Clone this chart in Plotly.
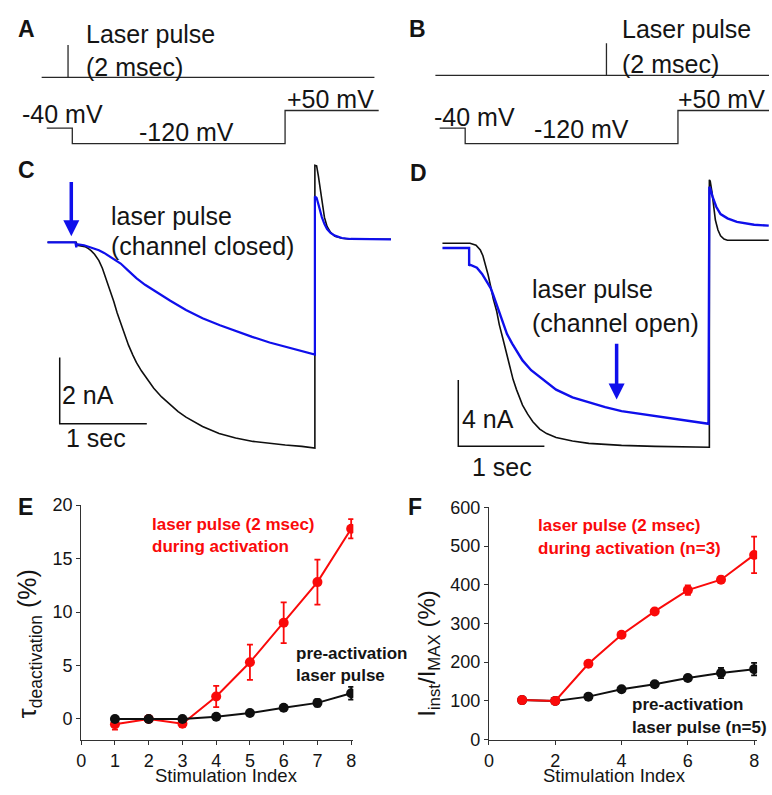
import plotly.graph_objects as go

# picture size (figure fills the page exactly)
W, H = 772, 795
OFF = 0
FW, FH = W - 2 * OFF, H - 2 * OFF
FONT = "Liberation Sans, Arial, sans-serif"
RED = "rgb(250,10,10)"
BLUE = "rgb(15,15,235)"
BLK = "rgb(15,15,15)"

# ---------------- data ----------------
# A/B: voltage protocol (time in s, voltage in mV)
prot_t = [-0.3, 0.0, 0.0, 2.5, 2.5, 3.6]
prot_v = [-40, -40, -120, -120, 50, 50]
# laser pulse trace (time in s, relative level)
laser_a_t = [-0.36, -0.05, -0.05, -0.05, 3.55]
laser_b_t = [-0.35, 1.66, 1.66, 1.66, 3.6]
laser_level = [0, 0, 1, 0, 0]

# C: current traces (time in s, current in nA)
c_t_black = [-0.33, 0.0, 0.01, 0.06, 0.1, 0.14, 0.17, 0.21, 0.26, 0.3, 0.34, 0.38, 0.43, 0.47, 0.51,
             0.55, 0.6, 0.65, 0.69, 0.75, 0.8, 0.89, 0.98, 1.08, 1.17, 1.26, 1.45, 1.64, 1.83, 2.03,
             2.22, 2.4, 2.59, 2.74, 2.74, 2.76, 2.78, 2.8, 2.82, 2.85, 2.88, 2.92, 2.97, 3.05, 3.15, 3.65]
c_i_black = [0, 0, -0.09, -0.1, -0.13, -0.19, -0.25, -0.36, -0.55, -0.78, -1.07, -1.4, -1.78, -2.13, -2.45,
             -2.76, -3.1, -3.4, -3.62, -3.88, -4.08, -4.4, -4.66, -4.9, -5.1, -5.27, -5.55, -5.76, -5.9, -6.0,
             -6.06, -6.11, -6.15, -6.2, 2.32, 2.3, 2.0, 1.6, 1.2, 0.75, 0.48, 0.3, 0.18, 0.12, 0.09, 0.09]
c_t_blue = [-0.33, -0.01, 0.0, 0.01, 0.09, 0.2, 0.26, 0.32, 0.4, 0.51, 0.6, 0.69, 0.79, 0.89, 1.08, 1.26,
            1.45, 1.65, 1.83, 2.02, 2.22, 2.48, 2.74, 2.74, 2.76, 2.78, 2.8, 2.82, 2.85, 2.88, 2.92, 2.97,
            3.05, 3.15, 3.65]
c_i_blue = [0, 0, -0.15, -0.06, -0.09, -0.18, -0.24, -0.32, -0.45, -0.64, -0.86, -1.08, -1.28, -1.45,
            -1.76, -2.04, -2.29, -2.5, -2.68, -2.85, -3.02, -3.2, -3.38, 1.38, 1.34, 1.15, 0.95, 0.76,
            0.55, 0.4, 0.28, 0.2, 0.13, 0.1, 0.09]

# D: current traces (time in s, current in nA)
d_t_black = [-0.31, 0.01, 0.08, 0.13, 0.16, 0.19, 0.22, 0.25, 0.28, 0.32, 0.35, 0.39, 0.43, 0.47, 0.51,
             0.55, 0.59, 0.62, 0.68, 0.74, 0.82, 0.9, 1.01, 1.2, 1.39, 1.77, 2.16, 2.5, 2.79, 2.79, 2.8,
             2.82, 2.84, 2.86, 2.89, 2.92, 2.96, 3.0, 3.48]
d_i_black = [0, 0, -0.12, -0.41, -0.75, -1.25, -1.9, -2.6, -3.35, -4.1, -4.9, -5.71, -6.6, -7.47, -8.2,
             -8.82, -9.35, -9.75, -10.3, -10.76, -11.2, -11.47, -11.71, -11.92, -12.06, -12.18, -12.24,
             -12.27, -12.29, 3.82, 3.75, 3.1, 2.2, 1.4, 0.8, 0.45, 0.25, 0.18, 0.18]
d_t_blue = [-0.31, 0.0, 0.0, 0.01, 0.09, 0.15, 0.21, 0.25, 0.28, 0.32, 0.36, 0.4, 0.44, 0.5, 0.55, 0.62,
            0.72, 0.82, 0.92, 1.01, 1.2, 1.39, 1.58, 1.77, 2.16, 2.54, 2.78, 2.79, 2.8, 2.83, 2.87, 2.92,
            3.0, 3.11, 3.31, 3.48]
d_i_blue = [-0.29, -0.29, -1.35, -1.29, -1.47, -1.85, -2.35, -2.7, -3.12, -3.7, -4.29, -4.9, -5.47,
            -6.05, -6.47, -7.06, -7.65, -8.06, -8.47, -8.82, -9.29, -9.59, -9.88, -10.12, -10.41, -10.71,
            -10.88, 3.41, 3.3, 2.76, 2.2, 1.76, 1.5, 1.29, 1.12, 1.06]

# arrows marking the laser pulse: (time, tail current, tip current)
arrow_c = (-0.057, 1.82, 0.18)
arrow_d = (1.713, -6.06, -9.41)

# E: tau deactivation (%)
stim_idx = [1, 2, 3, 4, 5, 6, 7, 8]
e_red = [-0.5, 0.0, -0.45, 2.1, 5.3, 9.0, 12.8, 17.8]
e_red_err = [0.5, 0.1, 0.3, 1.0, 1.65, 1.9, 2.1, 0.9]
e_black = [0.0, 0.0, 0.0, 0.2, 0.55, 1.05, 1.5, 2.4]
e_black_err = [0.2, 0.1, 0.1, 0.2, 0.2, 0.2, 0.35, 0.6]
e_xticks = [0, 1, 2, 3, 4, 5, 6, 7, 8]
e_yticks = [0, 5, 10, 15, 20]

# F: I_inst / I_MAX (%)
f_red = [102, 100, 196, 271, 331, 386, 413, 477]
f_red_err = [4, 3, 5, 6, 6, 12, 8, 47]
f_black = [102, 100, 111, 130, 143, 159, 172, 182]
f_black_err = [3, 3, 5, 5, 5, 8, 13, 16]
f_xticks = [0, 2, 4, 6, 8]
f_yticks = [0, 100, 200, 300, 400, 500, 600]


# ---------------- helpers (picture pixels -> figure fractions) ----------------
def cx(p):
    return min(max(p, OFF), OFF + FW)


def cy(p):
    return min(max(p, OFF), OFF + FH)


def xaxis_px(p0, p1, origin, s):
    a, b = cx(p0), cx(p1)
    return dict(domain=[(a - OFF) / FW, (b - OFF) / FW], range=[(a - origin) / s, (b - origin) / s])


def yaxis_px(p0, p1, origin, s):
    a, b = cy(p0), cy(p1)
    return dict(domain=[1 - (b - OFF) / FH, 1 - (a - OFF) / FH], range=[(origin - b) / s, (origin - a) / s])


def hidden(box, **kw):
    d = dict(visible=False, showgrid=False, zeroline=False, fixedrange=True)
    d.update(box)
    d.update(kw)
    return d


fig = go.Figure()
line_gray = dict(color="rgb(40,40,40)", width=1.3)

# A
fig.add_trace(go.Scatter(x=laser_a_t, y=laser_level, mode="lines", line=line_gray, xaxis="x", yaxis="y2"))
fig.add_trace(go.Scatter(x=prot_t, y=prot_v, mode="lines", line=line_gray, xaxis="x", yaxis="y"))
# B
fig.add_trace(go.Scatter(x=laser_b_t, y=laser_level, mode="lines", line=line_gray, xaxis="x2", yaxis="y4"))
fig.add_trace(go.Scatter(x=prot_t, y=prot_v, mode="lines", line=line_gray, xaxis="x2", yaxis="y3"))
# C
fig.add_trace(go.Scatter(x=c_t_black, y=c_i_black, mode="lines", line=dict(color=BLK, width=1.6), xaxis="x3", yaxis="y5"))
fig.add_trace(go.Scatter(x=c_t_blue, y=c_i_blue, mode="lines", line=dict(color=BLUE, width=2.2), xaxis="x3", yaxis="y5"))
sc_t0, sc_i0 = -0.19, -5.47
fig.add_trace(go.Scatter(x=[sc_t0, sc_t0, sc_t0 + 1], y=[sc_i0 + 2, sc_i0, sc_i0], mode="lines",
                         line=dict(color=BLK, width=1.5), xaxis="x3", yaxis="y5"))
# D
fig.add_trace(go.Scatter(x=d_t_black, y=d_i_black, mode="lines", line=dict(color=BLK, width=1.6), xaxis="x4", yaxis="y6"))
fig.add_trace(go.Scatter(x=d_t_blue, y=d_i_blue, mode="lines", line=dict(color=BLUE, width=2.4), xaxis="x4", yaxis="y6"))
sd_t0, sd_i0 = -0.126, -12.24
fig.add_trace(go.Scatter(x=[sd_t0, sd_t0, sd_t0 + 1], y=[sd_i0 + 4, sd_i0, sd_i0], mode="lines",
                         line=dict(color=BLK, width=1.5), xaxis="x4", yaxis="y6"))


def add_arrow(arr, xa, ya, shaft_frac):
    t, tail, tip = arr
    base = tip + (tail - tip) * shaft_frac
    fig.add_trace(go.Scatter(x=[t, t], y=[tail, base], mode="lines", line=dict(color=BLUE, width=3.5),
                             xaxis=xa, yaxis=ya))
    fig.add_trace(go.Scatter(x=[t], y=[tip], mode="markers", xaxis=xa, yaxis=ya,
                             marker=dict(symbol="arrow-down", size=16, color=BLUE, line=dict(width=0))))


add_arrow(arrow_c, "x3", "y5", 0.25)
add_arrow(arrow_d, "x4", "y6", 0.25)

# E (black on top)
fig.add_trace(go.Scatter(x=stim_idx, y=e_red, mode="lines+markers", xaxis="x5", yaxis="y7",
                         line=dict(color=RED, width=2), marker=dict(color=RED, size=10),
                         error_y=dict(type="data", array=e_red_err, color=RED, thickness=1.8, width=3)))
fig.add_trace(go.Scatter(x=stim_idx, y=e_black, mode="lines+markers", xaxis="x5", yaxis="y7",
                         line=dict(color=BLK, width=2), marker=dict(color=BLK, size=10),
                         error_y=dict(type="data", array=e_black_err, color=BLK, thickness=1.8, width=3)))
# F (red on top)
fig.add_trace(go.Scatter(x=stim_idx, y=f_black, mode="lines+markers", xaxis="x6", yaxis="y8",
                         line=dict(color=BLK, width=2), marker=dict(color=BLK, size=10),
                         error_y=dict(type="data", array=f_black_err, color=BLK, thickness=1.8, width=3)))
fig.add_trace(go.Scatter(x=stim_idx, y=f_red, mode="lines+markers", xaxis="x6", yaxis="y8",
                         line=dict(color=RED, width=2), marker=dict(color=RED, size=10),
                         error_y=dict(type="data", array=f_red_err, color=RED, thickness=1.8, width=3)))

axline = "rgb(50,50,50)"
tickfont = dict(family=FONT, size=18, color="rgb(20,20,20)")


def data_axis(box, ticks, anchor):
    d = dict(tickmode="array", tickvals=ticks, showline=True, linecolor=axline,
             linewidth=1.3, ticks="outside", ticklen=4, tickwidth=1.3, tickcolor=axline, showgrid=False,
             zeroline=False, tickfont=tickfont, anchor=anchor, fixedrange=True)
    d.update(box)
    return d


layout = dict(
    width=FW, height=FH, margin=dict(l=0, r=0, t=0, b=0), showlegend=False,
    paper_bgcolor="white", plot_bgcolor="rgba(0,0,0,0)",
    font=dict(family=FONT, color="rgb(20,20,20)"),
    # A
    xaxis=hidden(xaxis_px(0, 390, 68, 86), anchor="y"),
    yaxis=hidden(yaxis_px(90, 150, 114, 0.2), anchor="x"),
    yaxis2=hidden(yaxis_px(25, 80, 70, 33), anchor="x"),
    # B
    xaxis2=hidden(xaxis_px(390, 772, 465, 86), anchor="y3"),
    yaxis3=hidden(yaxis_px(90, 150, 114, 0.2), anchor="x2"),
    yaxis4=hidden(yaxis_px(25, 80, 68, 33), anchor="x2"),
    # C
    xaxis3=hidden(xaxis_px(0, 390, 72, 88), anchor="y5"),
    yaxis5=hidden(yaxis_px(140, 475, 239, 34), anchor="x3"),
    # D
    xaxis4=hidden(xaxis_px(390, 772, 469, 87), anchor="y6"),
    yaxis6=hidden(yaxis_px(140, 480, 240, 17), anchor="x4"),
    # E: axis boxes in picture pixels (0 at x=77, 1 unit = 34.1 px; y: 0 at 727.3, 1 unit = 10.95 px)
    xaxis5=data_axis(xaxis_px(77, 352, 77, 34.1), e_xticks, "y7"),
    yaxis7=data_axis(yaxis_px(508, 749, 727.3, 10.95), e_yticks, "x5"),
    # F
    xaxis6=data_axis(xaxis_px(489, 760, 489, 33.5), f_xticks, "y8"),
    yaxis8=data_axis(yaxis_px(510, 749, 748.5, 0.3967), f_yticks, "x6"),
)
fig.update_layout(**layout)


def txt(px, py, text, size=25, color="rgb(20,20,20)", bold=False, anchor="left", angle=0):
    if bold:
        text = "<b>" + text + "</b>"
    fig.add_annotation(x=(px - OFF) / FW, y=1 - (py - OFF) / FH, xref="paper", yref="paper", text=text,
                       showarrow=False, xanchor=anchor, yanchor="middle", textangle=angle,
                       font=dict(family=FONT, size=size, color=color))


# panel letters
for lbl, px, py in [("A", 11, 20), ("B", 406, 20), ("C", 11, 165), ("D", 407, 168), ("E", 11, 510), ("F", 405, 510)]:
    txt(px, py, lbl, size=23, bold=True)

# A texts
txt(80, 26, "Laser pulse")
txt(80, 59, "(2 msec)")
txt(15, 108, "-40 mV")
txt(133, 126, "-120 mV")
txt(283, 92, "+50 mV")
# B texts
txt(621, 20, "Laser pulse")
txt(621, 56, "(2 msec)")
txt(431, 111, "-40 mV")
txt(533, 123, "-120 mV")
txt(678, 92, "+50 mV")
# C texts
txt(105, 212, "laser pulse")
txt(105, 243, "(channel closed)")
txt(56, 395, "2 nA")
txt(60, 439, "1 sec")
# D texts
txt(531, 287, "laser pulse")
txt(531, 322, "(channel open)")
txt(460, 420, "4 nA")
txt(470, 469, "1 sec")

# E annotations
txt(147, 528, "laser pulse (2 msec)", size=17, color=RED, bold=True)
txt(147, 551, "during activation", size=17, color=RED, bold=True)
txt(292, 660, "pre-activation", size=17, bold=True)
txt(292, 683, "laser pulse", size=17, bold=True)
txt(224, 785, "Stimulation Index", size=18.5, anchor="center")
txt(25, 650, "τ<sub>deactivation</sub> (%)", size=25, anchor="center", angle=-90)

# F annotations
txt(537, 529, "laser pulse (2 msec)", size=17, color=RED, bold=True)
txt(537, 553, "during activation (n=3)", size=17, color=RED, bold=True)
txt(632, 713, "pre-activation", size=17, bold=True)
txt(632, 736, "laser pulse (n=5)", size=17, bold=True)
txt(616, 785, "Stimulation Index", size=18.5, anchor="center")
txt(428, 660, "I<sub>inst</sub>/I<sub>MAX</sub> (%)", size=24, anchor="center", angle=-90)

fig.write_html("out.html")
